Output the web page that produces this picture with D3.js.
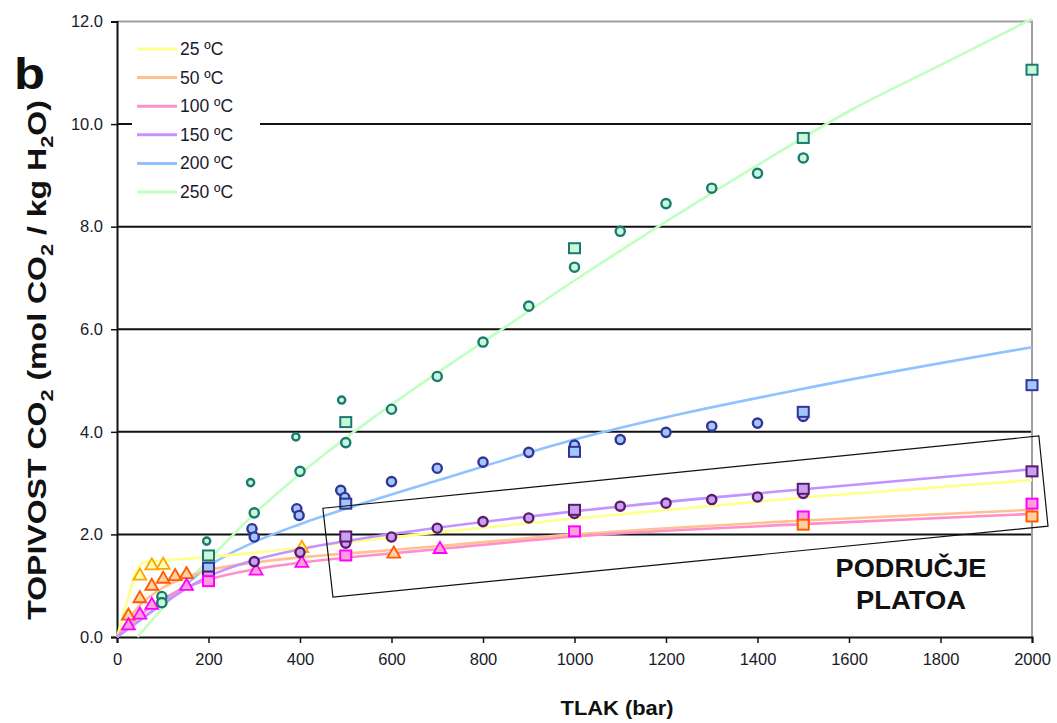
<!DOCTYPE html>
<html><head><meta charset="utf-8">
<script src="https://cdn.jsdelivr.net/npm/d3@7"></script>
<style>
body{margin:0;background:#fff;}
svg{display:block;font-family:"Liberation Sans",Arial,sans-serif;}
</style></head>
<body><svg id="c" width="1057" height="723"></svg>
<script>
// ---- data ----
const seriesNames = ["25 ºC","50 ºC","100  ºC","150  ºC","200  ºC","250  ºC"];
const lineColors = ["#ffff8c","#ffc092","#ff8fcb","#c493ff","#8fc2ff","#bfffbf"];
const markStroke = ["#ffa500","#ff5a00","#ff00ff","#5a1a6e","#33339a","#1a7a72"];
const markFill   = ["#ffffb0","#ffd0a0","#ff9fd8","#c9a0f0","#a0c8f8","#c8f8d8"];

// model curves (pressure bar -> solubility)
const lineP25  = [0, 20, 43, 60, 100, 200, 300, 400, 500, 700, 1000, 1500, 2000];
const lineV25  = [0, 0.62, 1.29, 1.46, 1.49, 1.56, 1.64, 1.74, 1.84, 2.04, 2.31, 2.72, 3.06];
const lineP50  = [0, 50, 100, 150, 200, 300, 400, 550, 700, 1000, 1500, 2000];
const lineV50  = [0, 0.62, 0.96, 1.16, 1.3, 1.45, 1.55, 1.66, 1.77, 2.0, 2.27, 2.48];
const lineP100 = [0, 50, 100, 150, 200, 300, 400, 550, 700, 1000, 1500, 2000];
const lineV100 = [0, 0.42, 0.74, 0.96, 1.12, 1.32, 1.45, 1.59, 1.71, 1.96, 2.2, 2.4];
const lineP150 = [0, 50, 100, 150, 200, 300, 400, 550, 700, 1000, 1500, 2000];
const lineV150 = [0, 0.33, 0.64, 0.94, 1.18, 1.5, 1.71, 1.94, 2.13, 2.45, 2.88, 3.27];
const lineP200 = [0, 50, 100, 150, 200, 300, 400, 550, 700, 1000, 1500, 2000];
const lineV200 = [0, 0.32, 0.68, 1.02, 1.38, 1.85, 2.2, 2.64, 3.05, 3.85, 4.84, 5.65];
const lineP250 = [45, 100, 200, 300, 400, 500, 600, 700, 800, 1000, 1200, 1400, 1600, 1800, 2000];
const lineV250 = [0, 0.57, 1.5, 2.4, 3.18, 3.88, 4.53, 5.15, 5.75, 6.95, 8.1, 9.2, 10.25, 11.15, 12.05];

// measured data: triangles
const triP25  = [50, 76, 101, 404];
const triV25  = [1.19, 1.39, 1.4, 1.73];
const triP50  = [25, 50, 76, 101, 127, 152, 605];
const triV50  = [0.41, 0.75, 0.99, 1.13, 1.18, 1.22, 1.62];
const triP100 = [25, 50, 76, 152, 304, 404, 706];
const triV100 = [0.22, 0.43, 0.62, 0.99, 1.29, 1.44, 1.71];
// measured data: squares
const sqP50  = [1500, 2000];
const sqV50  = [2.18, 2.34];
const sqP100 = [200, 500, 1000, 1500, 2000];
const sqV100 = [1.08, 1.58, 2.05, 2.34, 2.59];
const sqP150 = [200, 500, 1000, 1500, 2000];
const sqV150 = [1.17, 1.95, 2.47, 2.88, 3.22];
const sqP200 = [200, 500, 1000, 1500, 2000];
const sqV200 = [1.34, 2.59, 3.6, 4.38, 4.9];
const sqP250 = [200, 500, 1000, 1500, 2000];
const sqV250 = [1.58, 4.18, 7.57, 9.72, 11.05];
// measured data: circles
const ciP150 = [300, 400, 500, 600, 700, 800, 900, 1000, 1100, 1200, 1300, 1400, 1500];
const ciV150 = [1.47, 1.65, 1.83, 1.95, 2.12, 2.25, 2.32, 2.41, 2.55, 2.61, 2.68, 2.73, 2.8];
const ciP200 = [295, 300, 393, 398, 489, 498, 600, 700, 800, 900, 1000, 1100, 1200, 1300, 1400, 1500];
const ciV200 = [2.11, 1.95, 2.5, 2.37, 2.86, 2.72, 3.03, 3.29, 3.41, 3.6, 3.74, 3.85, 3.99, 4.11, 4.17, 4.3];
const ciP250 = [98, 98, 300, 400, 500, 600, 700, 800, 900, 1000, 1100, 1200, 1300, 1400, 1500];
const ciV250 = [0.79, 0.67, 2.42, 3.23, 3.79, 4.44, 5.08, 5.75, 6.45, 7.21, 7.91, 8.45, 8.75, 9.04, 9.34];
const smP250 = [196, 292, 391, 491];
const smV250 = [1.87, 3.01, 3.9, 4.62];

// axis ticks
const xTicks = [0,200,400,600,800,1000,1200,1400,1600,1800,2000];
const yTicks = [0,2,4,6,8,10,12];
// annotation box corners (bar, value)
const boxP = [450, 2015, 2035, 472];
const boxV = [2.51, 3.92, 2.16, 0.78];

// ---- drawing ----
const svg = d3.select("#c");
const x = d3.scaleLinear().domain([0,2000]).range([117,1032]);
const y = d3.scaleLinear().domain([0,12]).range([637,21.5]);

// stretch a text element horizontally (in its own frame) to a target width
function fitWidth(sel, w, baseTransform){
  const len = sel.node().getComputedTextLength();
  sel.attr("transform", (baseTransform||"") + ` scale(${w/len},1)`);
}

// gridlines
svg.append("g").selectAll("line").data(yTicks.filter(d=>d>0&&d<12)).join("line")
  .attr("x1",x(0)).attr("x2",x(2000)).attr("y1",d=>y(d)).attr("y2",d=>y(d))
  .attr("stroke","#111").attr("stroke-width",2);
// top/right border
svg.append("path").attr("d",`M${x(0)},${y(12)}H${x(2000)}V${y(0)}`)
  .attr("fill","none").attr("stroke","#a0a0a0").attr("stroke-width",2);

// axes
const yAxis = d3.axisLeft(y).tickValues(yTicks).tickFormat(d3.format(".1f")).tickSize(6).tickPadding(8);
const gy = svg.append("g").attr("transform",`translate(${x(0)},0)`).call(yAxis);
const xAxis = d3.axisBottom(x).tickValues(xTicks).tickFormat(d3.format("d")).tickSize(6).tickPadding(10);
const gx = svg.append("g").attr("transform",`translate(0,${y(0)})`).call(xAxis);
[gx,gy].forEach(g=>{
  g.select(".domain").attr("stroke","#111").attr("stroke-width",2);
  g.selectAll(".tick line").attr("stroke","#111").attr("stroke-width",1.5);
  g.selectAll("text").attr("font-size",16.5).attr("fill","#1a1a2a").attr("font-family","'Liberation Sans',Arial,sans-serif");
});

// lines
const linesP = [lineP25,lineP50,lineP100,lineP150,lineP200,lineP250];
const linesV = [lineV25,lineV50,lineV100,lineV150,lineV200,lineV250];
const lineGen = d3.line().x(d=>x(d[0])).y(d=>y(d[1])).curve(d3.curveMonotoneX);
const order = [5,4,0,1,2,3];
order.forEach(i=>{
  svg.append("path").datum(linesP[i].map((p,k)=>[p,linesV[i][k]]))
    .attr("d",lineGen).attr("fill","none").attr("stroke",lineColors[i]).attr("stroke-width",2.6);
});

// markers
function circles(P,V,i,r){
  svg.append("g").selectAll("circle").data(P.map((p,k)=>[p,V[k]])).join("circle")
    .attr("cx",d=>x(d[0])).attr("cy",d=>y(d[1])).attr("r",r)
    .attr("fill",markFill[i]).attr("stroke",markStroke[i]).attr("stroke-width",2.4);
}
function squares(P,V,i){
  const s=11;
  svg.append("g").selectAll("rect").data(P.map((p,k)=>[p,V[k]])).join("rect")
    .attr("x",d=>x(d[0])-s/2).attr("y",d=>y(d[1])-s/2).attr("width",s).attr("height",s-1)
    .attr("fill",markFill[i]).attr("stroke",markStroke[i]).attr("stroke-width",2);
}
const tri = d3.symbol().type(d3.symbolTriangle).size(72);
function triangles(P,V,i){
  svg.append("g").selectAll("path").data(P.map((p,k)=>[p,V[k]])).join("path")
    .attr("d",tri).attr("transform",d=>`translate(${x(d[0])},${y(d[1])})`)
    .attr("fill",markFill[i]).attr("stroke",markStroke[i]).attr("stroke-width",1.8);
}
triangles(triP25,triV25,0);
triangles(triP50,triV50,1);
triangles(triP100,triV100,2);
circles(smP250,smV250,5,3.6);
circles(ciP250,ciV250,5,4.6);
circles(ciP200,ciV200,4,4.6);
circles(ciP150,ciV150,3,4.6);
squares(sqP250,sqV250,5);
squares(sqP200,sqV200,4);
squares(sqP150,sqV150,3);
squares(sqP100,sqV100,2);
squares(sqP50,sqV50,1);

// legend
const lg = svg.append("g");
lg.append("rect").attr("x",132).attr("y",30).attr("width",128).attr("height",176).attr("fill","#fff");
seriesNames.forEach((n,i)=>{
  const yy = 49 + i*28.6;
  lg.append("line").attr("x1",137).attr("x2",177).attr("y1",yy).attr("y2",yy)
    .attr("stroke",lineColors[i]).attr("stroke-width",3);
  lg.append("text").attr("x",180).attr("y",yy+6).attr("font-size",17.5).attr("fill","#1a1a2a").text(n);
});

// annotation box
svg.append("path").datum(boxP.map((p,k)=>[p,boxV[k]]))
  .attr("d",d=>"M"+d.map(q=>x(q[0])+","+y(q[1])).join("L")+"Z")
  .attr("fill","none").attr("stroke","#111").attr("stroke-width",1.2);
const a1 = svg.append("text").attr("x",0).attr("y",0).attr("text-anchor","middle").attr("font-weight","bold").attr("font-size",25).attr("fill","#111").text("PODRUČJE");
fitWidth(a1,151,"translate(911,577)");
const a2 = svg.append("text").attr("x",0).attr("y",0).attr("text-anchor","middle").attr("font-weight","bold").attr("font-size",25).attr("fill","#111").text("PLATOA");
fitWidth(a2,110,"translate(911,609)");

// panel letter
const b = svg.append("text").attr("x",0).attr("y",0).attr("font-size",44).attr("font-weight","bold").attr("fill","#111").text("b");
fitWidth(b,31,"translate(14,89)");

// axis titles
const xt = svg.append("text").attr("x",0).attr("y",0).attr("text-anchor","middle")
  .attr("font-size",20).attr("font-weight","bold").attr("fill","#111").text("TLAK (bar)");
fitWidth(xt,113,"translate(617,715)");
const yt = svg.append("text").attr("x",0).attr("y",0).attr("text-anchor","middle")
  .attr("font-size",25).attr("font-weight","bold").attr("fill","#111");
yt.append("tspan").text("TOPIVOST CO");
yt.append("tspan").attr("dy",7).attr("font-size",17).text("2");
yt.append("tspan").attr("dy",-7).text(" (mol CO");
yt.append("tspan").attr("dy",7).attr("font-size",17).text("2");
yt.append("tspan").attr("dy",-7).text(" / kg H");
yt.append("tspan").attr("dy",7).attr("font-size",17).text("2");
yt.append("tspan").attr("dy",-7).text("O)");
fitWidth(yt,520,"translate(46,360) rotate(-90)");
</script></body></html>
